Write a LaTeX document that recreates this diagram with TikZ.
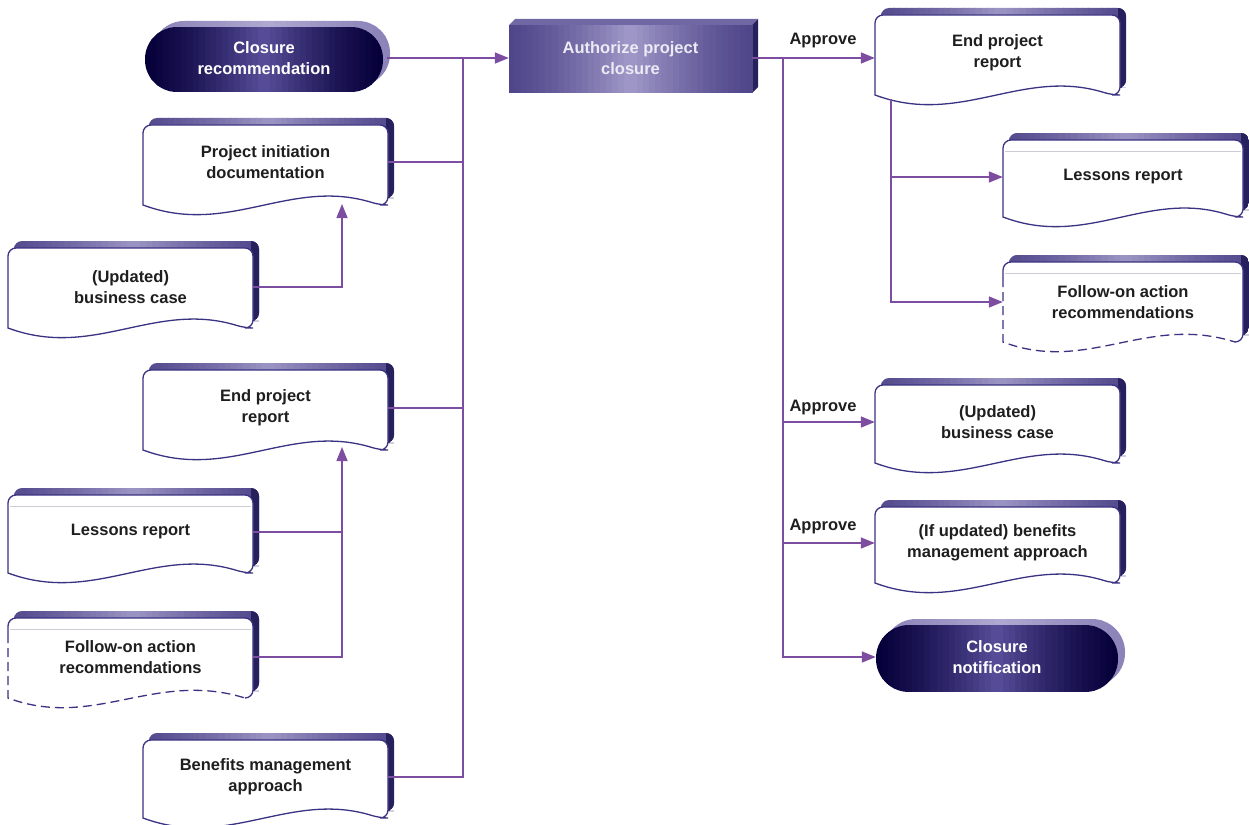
\documentclass[tikz,border=0pt]{standalone}
\usepackage{fontspec}
\setmainfont{Liberation Sans}
\usetikzlibrary{arrows.meta}
\definecolor{connc}{RGB}{124,77,161}
\definecolor{doclinec}{RGB}{58,50,130}
\definecolor{extA}{RGB}{84,74,142}
\definecolor{extB}{RGB}{156,150,196}
\definecolor{extDark}{RGB}{38,32,92}
\definecolor{navy}{RGB}{6,0,58}
\definecolor{navyMid}{RGB}{88,78,154}
\definecolor{rimc}{RGB}{140,132,184}
\definecolor{rimB}{RGB}{176,170,210}
\definecolor{apcA}{RGB}{80,70,138}
\definecolor{apcB}{RGB}{160,153,200}
\definecolor{apcTop}{RGB}{112,104,164}
\definecolor{apcSide}{RGB}{40,34,92}
\definecolor{txtc}{RGB}{30,30,30}
\definecolor{thinc}{RGB}{205,205,218}

\tikzset{
  conn/.style={draw=connc, line width=1.5pt},
  arr/.style={-{Triangle[length=14pt,width=11pt]}},
  lbl/.style={font=\fontsize{16.5}{21}\selectfont\bfseries, text=txtc, align=center, inner sep=0pt},
  box/.style={lbl, minimum width=#1, minimum height=20pt},
  wbox/.style={box=#1, text=white},
  docl/.style={draw=doclinec, line width=1.3pt},
  thinl/.style={draw=thinc, line width=0.8pt}
}

% horizontal symmetric gradient by strips: x1 y1 x2 y2 edgecolour midcolour
\newcommand{\hgrad}[6]{%
  \foreach \gi in {0,...,39}{%
    \pgfmathsetmacro{\gxa}{#1+(#3-#1)*\gi/40}%
    \pgfmathsetmacro{\gxb}{#1+(#3-#1)*(\gi+1)/40+0.7}%
    \pgfmathtruncatemacro{\gm}{100*(1-abs((\gi+0.5)/40-0.5)*2)^1.3}%
    \fill[#6!\gm!#5] (\gxa,#2) rectangle (\gxb,#4);
  }%
}

\newcommand{\docshape}[4]{%
  \pgfmathsetmacro{\wA}{#1+0.6*(#3-#1)}%
  \pgfmathsetmacro{\wB}{#1+0.35*(#3-#1)}%
  \pgfmathsetmacro{\Rm}{#3-8}%
  \pgfmathsetmacro{\Bu}{#4-28}%
  \pgfmathsetmacro{\Bd}{#4+32}%
  \begin{scope}
    \clip[shift={(6,-7)}] (#1,#4) [rounded corners=8pt] -- (#1,#2) -- (#3,#2) -- (#3,#4) -- (\Rm,#4) [sharp corners] .. controls (\wA,\Bu) and (\wB,\Bd) .. (#1,#4) -- cycle;
    \hgrad{#1}{#2-8}{#3+6}{#4}{extA}{extB}
    \fill[extDark] ({#3-2},{#2-12}) rectangle ({#3+12},{#4+40});
  \end{scope}
  \fill[white] (#1,#4) [rounded corners=8pt] -- (#1,#2) -- (#3,#2) -- (#3,#4) -- (\Rm,#4) [sharp corners] .. controls (\wA,\Bu) and (\wB,\Bd) .. (#1,#4) -- cycle;
}
\newcommand{\docsolid}[4]{%
  \draw[docl] (#1,#4) [rounded corners=8pt] -- (#1,#2) -- (#3,#2) -- (#3,#4) -- (\Rm,#4) [sharp corners] .. controls (\wA,\Bu) and (\wB,\Bd) .. (#1,#4) -- cycle;
}
\newcommand{\docdash}[4]{%
  \draw[docl] (#1,{#2+16}) [rounded corners=8pt] -- (#1,#2) -- (#3,#2) -- (#3,#4) -- (\Rm,#4);
  \draw[docl, dash pattern=on 9pt off 5pt] (#1,{#2+16}) -- (#1,#4) .. controls (\wB,\Bd) and (\wA,\Bu) .. (\Rm,#4);
}
\newcommand{\docthin}[3]{%
  \draw[thinl] ({#1+2},{#2+11}) -- ({#3-2},{#2+11});
}
\newcommand{\termshape}[4]{%
  \pgfmathsetmacro{\rr}{(#4-#2)/2-0.5}%
  \begin{scope}
    \clip[rounded corners=\rr pt] ({#1+7},{#2-6}) rectangle ({#3+7},{#4-6});
    \hgrad{#1}{#2-7}{#3+8}{#4}{rimc}{rimB}
  \end{scope}
  \begin{scope}
    \clip[rounded corners=\rr pt] (#1,#2) rectangle (#3,#4);
    \hgrad{#1}{#2}{#3}{#4}{navy}{navyMid}
  \end{scope}
}

\begin{document}
\begin{tikzpicture}[x=1pt,y=-1pt]
\useasboundingbox (0,0) rectangle (1249,824);

% ---------- left column ----------
\termshape{145}{27}{383}{92}
\node[wbox=245pt] (cr) at (264,58) {Closure\\recommendation};

\docshape{143}{125}{388}{205}\docsolid{143}{125}{388}{205}
\node[box=245pt] (pid) at (265.5,162) {Project initiation\\documentation};

\docshape{8}{248}{253}{328}\docsolid{8}{248}{253}{328}
\node[box=245pt] (bc) at (130.5,287) {(Updated)\\business case};

\docshape{143}{370}{388}{450}\docsolid{143}{370}{388}{450}
\node[box=245pt] (eprL) at (265.5,408) {End project\\report};

\docshape{8}{495}{253}{573}\docsolid{8}{495}{253}{573}\docthin{8}{495}{253}
\node[box=245pt] (lrL) at (130.5,532) {Lessons report};

\docshape{8}{618}{253}{698}\docdash{8}{618}{253}{698}\docthin{8}{618}{253}
\node[box=245pt] (foL) at (130.5,657) {Follow-on action\\recommendations};

\docshape{143}{740}{388}{818}\docsolid{143}{740}{388}{818}
\node[box=245pt] (bma) at (265.5,777) {Benefits management\\approach};

% ---------- authorize ----------
\fill[apcTop] (509,25) -- (515,19) -- (758,19) -- (752,25) -- cycle;
\fill[apcSide] (752,25) -- (758,19) -- (758,87) -- (752,93) -- cycle;
\hgrad{509}{25}{752}{93}{apcA}{apcB}
\node[box=243pt, text={rgb,255:red,236;green,234;blue,244}] (apc) at (630.5,58) {Authorize project\\closure};

% ---------- right column ----------
\docshape{875}{15}{1120}{95}\docsolid{875}{15}{1120}{95}
\node[box=245pt] (eprR) at (997.5,53) {End project\\report};

\docshape{1003}{140}{1243}{217}\docsolid{1003}{140}{1243}{217}\docthin{1003}{140}{1243}
\node[box=240pt] (lrR) at (1123,177) {Lessons report};

\docshape{1003}{262}{1243}{342}\docdash{1003}{262}{1243}{342}\docthin{1003}{262}{1243}
\node[box=240pt] (foR) at (1123,302) {Follow-on action\\recommendations};

\docshape{875}{385}{1120}{463}\docsolid{875}{385}{1120}{463}
\node[box=245pt] (bcR) at (997.5,422) {(Updated)\\business case};

\docshape{875}{507}{1120}{583}\docsolid{875}{507}{1120}{583}
\node[box=245pt] (bmR) at (997.5,543) {(If updated) benefits\\management approach};

\termshape{876}{625}{1118}{692}
\node[wbox=242pt] (cn) at (997,657) {Closure\\notification};

% ---------- labels ----------
\node[lbl] (ap1) at (823,41) {Approve};
\node[lbl] (ap2) at (823,408) {Approve};
\node[lbl] (ap3) at (823,527) {Approve};

% ---------- connectors ----------
\coordinate (busL) at (463,58);
\coordinate (busR) at (783,58);
\coordinate (pidIn) at (342,204);
\coordinate (eprIn) at (342,447);
\coordinate (eprOut) at (891,99);

\draw[conn,arr] (cr.east) -- (apc.west);
\draw[conn] (pid.east) -- (pid.east -| busL);
\draw[conn] (eprL.east) -- (eprL.east -| busL);
\draw[conn] (bma.east) -| (busL);
\draw[conn,arr] (bc.east) -| (pidIn);
\draw[conn] (lrL.east) -- (lrL.east -| eprIn);
\draw[conn,arr] (foL.east) -| (eprIn);

\draw[conn,arr] (apc.east) -- (apc.east -| eprR.west);
\draw[conn,arr] (busR) |- (bcR.west);
\draw[conn,arr] (busR) |- (bmR.west);
\draw[conn,arr] (busR) |- (cn.west);
\draw[conn,arr] (eprOut) |- (lrR.west);
\draw[conn,arr] (eprOut) |- (foR.west);
\end{tikzpicture}
\end{document}
